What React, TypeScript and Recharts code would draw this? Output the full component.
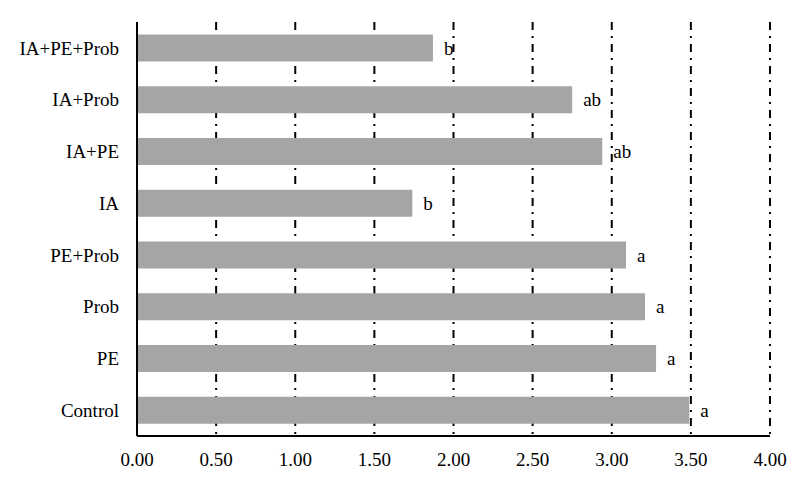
import React from 'react';
import { BarChart, Bar, XAxis, YAxis, CartesianGrid, LabelList } from 'recharts';

// treatments, top to bottom as in the figure
const treatments = ['IA+PE+Prob', 'IA+Prob', 'IA+PE', 'IA', 'PE+Prob', 'Prob', 'PE', 'Control'];
const means = [1.87, 2.75, 2.94, 1.74, 3.09, 3.21, 3.28, 3.49];
const letters = ['b', 'ab', 'ab', 'b', 'a', 'a', 'a', 'a'];
const xTicks = [0, 0.5, 1, 1.5, 2, 2.5, 3, 3.5, 4];

const data = treatments.map((name, i) => ({ name, value: means[i], sig: letters[i] }));

const serif = 'Liberation Serif, DejaVu Serif';
const font = { fontFamily: serif, fontSize: 19, fill: '#000' };

export default function App() {
  return (
    <div style={{ width: 799, height: 488, background: '#fff' }}>
      <style>{'body{margin:0}'}</style>
      <BarChart
        width={799}
        height={488}
        data={data}
        layout="vertical"
        barCategoryGap="24%"
        margin={{ top: 22, right: 29, bottom: 0, left: 0 }}
        style={{ fontFamily: serif }}
      >
        <CartesianGrid
          horizontal={false}
          stroke="#000"
          strokeWidth={2}
          strokeDasharray="8 6 2 6"
        />
        <XAxis
          type="number"
          domain={[0, 4]}
          ticks={xTicks}
          tickFormatter={(v: number) => v.toFixed(2)}
          height={52}
          tickLine={false}
          tickSize={0}
          tickMargin={17}
          axisLine={{ stroke: '#000', strokeWidth: 2 }}
          tick={font}
          interval={0}
        />
        <YAxis
          type="category"
          dataKey="name"
          width={137}
          tickLine={false}
          tickSize={0}
          tickMargin={18}
          axisLine={{ stroke: '#000', strokeWidth: 2 }}
          tick={font}
          interval={0}
        />
        <Bar dataKey="value" fill="#a5a5a5" isAnimationActive={false}>
          <LabelList dataKey="sig" position="right" offset={11} fontFamily={serif} fontSize={19} fill="#000" />
        </Bar>
      </BarChart>
    </div>
  );
}
